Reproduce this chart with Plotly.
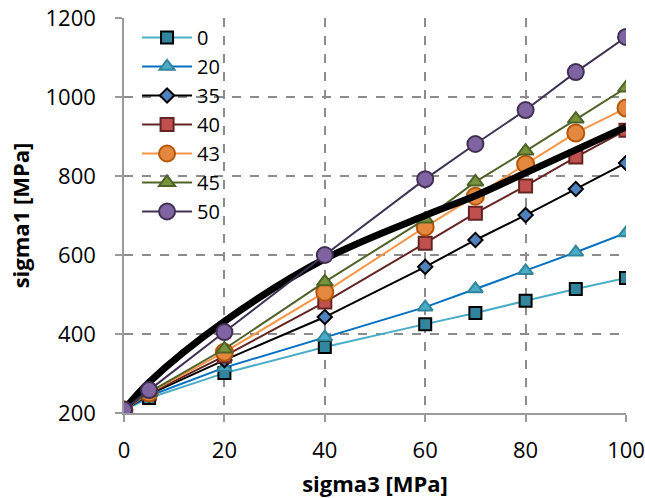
import plotly.graph_objects as go

x = [0, 5, 20, 40, 60, 70, 80, 90, 100]
s0 = [208, 238, 301, 367, 425, 453, 484, 514, 542]
s20 = [208, 243, 315, 392, 468, 514, 560, 607, 656]
s35 = [208, 247, 334, 443, 570, 638, 701, 767, 833]
s40 = [208, 249, 344, 481, 630, 706, 775, 848, 916]
s43 = [208, 251, 354, 506, 671, 749, 830, 909, 972]
s45 = [208, 252, 362, 532, 691, 785, 863, 944, 1023]
s50 = [208, 258, 405, 600, 792, 881, 967, 1063, 1152]
fit_x = [0, 5, 20, 40, 60, 70, 80, 90, 100]
fit_y = [208, 278, 432, 590, 700, 750, 808, 866, 924]

series = [
    ("0", s0, "#4BACC6", "square", "#31859C", "#000000", 12),
    ("20", s20, "#0070C0", "triangle-up", "#4BACC6", "#31859C", 13),
    ("35", s35, "#000000", "diamond", "#4F81BD", "#000000", 11),
    ("40", s40, "#632523", "square", "#C0504D", "#632523", 13),
    ("43", s43, "#F79646", "circle", "#E3883E", "#B65708", 17),
    ("45", s45, "#4F6228", "triangle-up", "#77933C", "#4F6228", 14),
    ("50", s50, "#403152", "circle", "#8064A2", "#403152", 16),
]

fig = go.Figure()
for i, (name, ys, lc, sym, fc, oc, sz) in enumerate(series):
    if name == "50":
        fig.add_trace(go.Scatter(x=fit_x, y=fit_y, mode="lines", showlegend=False,
                                 line=dict(color="#000000", width=7, shape="spline")))
    fig.add_trace(go.Scatter(
        x=x, y=ys, mode="lines+markers", name=name, legendrank=i + 1,
        line=dict(color=lc, width=2),
        marker=dict(symbol=sym, size=sz, color=fc, line=dict(color=oc, width=2)),
    ))

axis_common = dict(
    showgrid=True, gridcolor="#8C8C8C", griddash="dash", gridwidth=1.5,
    showline=True, linecolor="#9A9A9A", linewidth=1.5,
    ticks="outside", ticklen=7, tickcolor="#9A9A9A", tickwidth=1.5,
    zeroline=False, automargin=False,
    tickfont=dict(family="Open Sans", size=22, color="#000000"),
)

fig.update_layout(
    width=645, height=498,
    margin=dict(l=124, r=19, t=18, b=85),
    paper_bgcolor="white", plot_bgcolor="white",
    font=dict(family="Open Sans", color="#000000"),
    xaxis=dict(range=[0, 100], tickvals=[0, 20, 40, 60, 80, 100], ticklabelstandoff=10,
               title=dict(text="<b>sigma3 [MPa]</b>", font=dict(size=22), standoff=13),
               **axis_common),
    yaxis=dict(range=[200, 1200], tickvals=[200, 400, 600, 800, 1000, 1200],
               ticklabelstandoff=15,
               title=dict(text="<b>sigma1 [MPa]</b>", font=dict(size=22), standoff=10),
               **axis_common),
    legend=dict(x=0.026, y=1.0, xanchor="left", yanchor="top",
                bgcolor="rgba(0,0,0,0)", font=dict(size=20),
                itemwidth=50, tracegroupgap=0),
)

fig.write_html("out.html")
